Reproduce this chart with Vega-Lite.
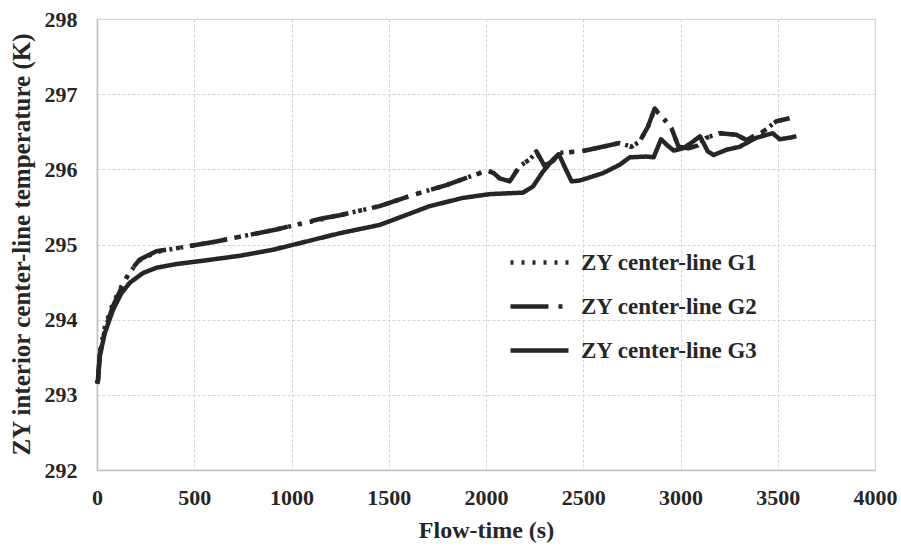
{
  "$schema": "https://vega.github.io/schema/vega-lite/v6.json",
  "width": 778,
  "height": 451,
  "autosize": "none",
  "padding": {"left": 97, "top": 19, "right": 26, "bottom": 76},
  "background": "white",
  "view": {"stroke": "#d9d9d9", "strokeWidth": 1.2},
  "config": {
    "axis": {
      "labelFont": "Liberation Serif",
      "labelFontWeight": "bold",
      "labelFontSize": 22,
      "labelColor": "#262626",
      "titleFont": "Liberation Serif",
      "titleFontWeight": "bold",
      "titleFontSize": 24,
      "titleColor": "#262626",
      "ticks": false,
      "gridColor": "#d4d4d4",
      "gridDash": [3, 2],
      "gridWidth": 1,
      "domainColor": "#bfbfbf",
      "domainWidth": 1.5,
      "labelFlush": false
    }
  },
  "data": {
    "values": [
      {"s": "ZY center-line G1", "t": 0, "T": 293.15},
      {"s": "ZY center-line G1", "t": 5, "T": 293.22},
      {"s": "ZY center-line G1", "t": 14, "T": 293.56},
      {"s": "ZY center-line G1", "t": 40, "T": 293.9},
      {"s": "ZY center-line G1", "t": 82, "T": 294.22},
      {"s": "ZY center-line G1", "t": 125, "T": 294.44},
      {"s": "ZY center-line G1", "t": 168, "T": 294.63},
      {"s": "ZY center-line G1", "t": 220, "T": 294.79},
      {"s": "ZY center-line G1", "t": 305, "T": 294.9},
      {"s": "ZY center-line G1", "t": 408, "T": 294.95},
      {"s": "ZY center-line G1", "t": 614, "T": 295.04},
      {"s": "ZY center-line G1", "t": 922, "T": 295.2},
      {"s": "ZY center-line G1", "t": 1162, "T": 295.34},
      {"s": "ZY center-line G1", "t": 1248, "T": 295.39},
      {"s": "ZY center-line G1", "t": 1453, "T": 295.51},
      {"s": "ZY center-line G1", "t": 1625, "T": 295.66},
      {"s": "ZY center-line G1", "t": 1796, "T": 295.79},
      {"s": "ZY center-line G1", "t": 1968, "T": 295.95},
      {"s": "ZY center-line G1", "t": 2002, "T": 295.99},
      {"s": "ZY center-line G1", "t": 2040, "T": 295.95},
      {"s": "ZY center-line G1", "t": 2070, "T": 295.88},
      {"s": "ZY center-line G1", "t": 2122, "T": 295.85},
      {"s": "ZY center-line G1", "t": 2173, "T": 296.04},
      {"s": "ZY center-line G1", "t": 2224, "T": 296.13},
      {"s": "ZY center-line G1", "t": 2259, "T": 296.23},
      {"s": "ZY center-line G1", "t": 2300, "T": 296.06},
      {"s": "ZY center-line G1", "t": 2340, "T": 296.1},
      {"s": "ZY center-line G1", "t": 2380, "T": 296.22},
      {"s": "ZY center-line G1", "t": 2490, "T": 296.24},
      {"s": "ZY center-line G1", "t": 2600, "T": 296.3},
      {"s": "ZY center-line G1", "t": 2687, "T": 296.35},
      {"s": "ZY center-line G1", "t": 2747, "T": 296.3},
      {"s": "ZY center-line G1", "t": 2790, "T": 296.37},
      {"s": "ZY center-line G1", "t": 2833, "T": 296.57},
      {"s": "ZY center-line G1", "t": 2867, "T": 296.8},
      {"s": "ZY center-line G1", "t": 2918, "T": 296.66},
      {"s": "ZY center-line G1", "t": 2953, "T": 296.55},
      {"s": "ZY center-line G1", "t": 2990, "T": 296.3},
      {"s": "ZY center-line G1", "t": 3040, "T": 296.28},
      {"s": "ZY center-line G1", "t": 3090, "T": 296.32},
      {"s": "ZY center-line G1", "t": 3133, "T": 296.42},
      {"s": "ZY center-line G1", "t": 3201, "T": 296.48},
      {"s": "ZY center-line G1", "t": 3287, "T": 296.46},
      {"s": "ZY center-line G1", "t": 3339, "T": 296.39},
      {"s": "ZY center-line G1", "t": 3424, "T": 296.5},
      {"s": "ZY center-line G1", "t": 3493, "T": 296.64},
      {"s": "ZY center-line G1", "t": 3561, "T": 296.68},

      {"s": "ZY center-line G2", "t": 0, "T": 293.15},
      {"s": "ZY center-line G2", "t": 5, "T": 293.2},
      {"s": "ZY center-line G2", "t": 14, "T": 293.53},
      {"s": "ZY center-line G2", "t": 40, "T": 293.86},
      {"s": "ZY center-line G2", "t": 82, "T": 294.18},
      {"s": "ZY center-line G2", "t": 125, "T": 294.42},
      {"s": "ZY center-line G2", "t": 168, "T": 294.64},
      {"s": "ZY center-line G2", "t": 220, "T": 294.8},
      {"s": "ZY center-line G2", "t": 305, "T": 294.91},
      {"s": "ZY center-line G2", "t": 408, "T": 294.95},
      {"s": "ZY center-line G2", "t": 614, "T": 295.04},
      {"s": "ZY center-line G2", "t": 922, "T": 295.2},
      {"s": "ZY center-line G2", "t": 1162, "T": 295.35},
      {"s": "ZY center-line G2", "t": 1248, "T": 295.39},
      {"s": "ZY center-line G2", "t": 1453, "T": 295.51},
      {"s": "ZY center-line G2", "t": 1625, "T": 295.66},
      {"s": "ZY center-line G2", "t": 1796, "T": 295.79},
      {"s": "ZY center-line G2", "t": 1968, "T": 295.95},
      {"s": "ZY center-line G2", "t": 2002, "T": 295.99},
      {"s": "ZY center-line G2", "t": 2040, "T": 295.95},
      {"s": "ZY center-line G2", "t": 2070, "T": 295.88},
      {"s": "ZY center-line G2", "t": 2122, "T": 295.84},
      {"s": "ZY center-line G2", "t": 2173, "T": 296.04},
      {"s": "ZY center-line G2", "t": 2224, "T": 296.13},
      {"s": "ZY center-line G2", "t": 2259, "T": 296.24},
      {"s": "ZY center-line G2", "t": 2300, "T": 296.05},
      {"s": "ZY center-line G2", "t": 2340, "T": 296.1},
      {"s": "ZY center-line G2", "t": 2380, "T": 296.22},
      {"s": "ZY center-line G2", "t": 2490, "T": 296.24},
      {"s": "ZY center-line G2", "t": 2600, "T": 296.3},
      {"s": "ZY center-line G2", "t": 2687, "T": 296.35},
      {"s": "ZY center-line G2", "t": 2747, "T": 296.3},
      {"s": "ZY center-line G2", "t": 2790, "T": 296.37},
      {"s": "ZY center-line G2", "t": 2833, "T": 296.57},
      {"s": "ZY center-line G2", "t": 2867, "T": 296.81},
      {"s": "ZY center-line G2", "t": 2918, "T": 296.66},
      {"s": "ZY center-line G2", "t": 2953, "T": 296.55},
      {"s": "ZY center-line G2", "t": 2990, "T": 296.3},
      {"s": "ZY center-line G2", "t": 3040, "T": 296.28},
      {"s": "ZY center-line G2", "t": 3090, "T": 296.32},
      {"s": "ZY center-line G2", "t": 3133, "T": 296.42},
      {"s": "ZY center-line G2", "t": 3201, "T": 296.48},
      {"s": "ZY center-line G2", "t": 3287, "T": 296.46},
      {"s": "ZY center-line G2", "t": 3339, "T": 296.39},
      {"s": "ZY center-line G2", "t": 3424, "T": 296.5},
      {"s": "ZY center-line G2", "t": 3493, "T": 296.64},
      {"s": "ZY center-line G2", "t": 3561, "T": 296.68},

      {"s": "ZY center-line G3", "t": 0, "T": 293.15},
      {"s": "ZY center-line G3", "t": 5, "T": 293.18},
      {"s": "ZY center-line G3", "t": 14, "T": 293.51},
      {"s": "ZY center-line G3", "t": 40, "T": 293.82},
      {"s": "ZY center-line G3", "t": 82, "T": 294.13},
      {"s": "ZY center-line G3", "t": 125, "T": 294.35},
      {"s": "ZY center-line G3", "t": 168, "T": 294.49},
      {"s": "ZY center-line G3", "t": 236, "T": 294.62},
      {"s": "ZY center-line G3", "t": 305, "T": 294.69},
      {"s": "ZY center-line G3", "t": 408, "T": 294.74},
      {"s": "ZY center-line G3", "t": 562, "T": 294.79},
      {"s": "ZY center-line G3", "t": 734, "T": 294.85},
      {"s": "ZY center-line G3", "t": 905, "T": 294.93},
      {"s": "ZY center-line G3", "t": 1077, "T": 295.04},
      {"s": "ZY center-line G3", "t": 1248, "T": 295.15},
      {"s": "ZY center-line G3", "t": 1453, "T": 295.26},
      {"s": "ZY center-line G3", "t": 1556, "T": 295.36},
      {"s": "ZY center-line G3", "t": 1710, "T": 295.51},
      {"s": "ZY center-line G3", "t": 1882, "T": 295.62},
      {"s": "ZY center-line G3", "t": 2019, "T": 295.67},
      {"s": "ZY center-line G3", "t": 2190, "T": 295.69},
      {"s": "ZY center-line G3", "t": 2241, "T": 295.77},
      {"s": "ZY center-line G3", "t": 2293, "T": 295.97},
      {"s": "ZY center-line G3", "t": 2344, "T": 296.13},
      {"s": "ZY center-line G3", "t": 2375, "T": 296.2},
      {"s": "ZY center-line G3", "t": 2405, "T": 296.03},
      {"s": "ZY center-line G3", "t": 2440, "T": 295.84},
      {"s": "ZY center-line G3", "t": 2480, "T": 295.85},
      {"s": "ZY center-line G3", "t": 2530, "T": 295.89},
      {"s": "ZY center-line G3", "t": 2602, "T": 295.95},
      {"s": "ZY center-line G3", "t": 2687, "T": 296.06},
      {"s": "ZY center-line G3", "t": 2739, "T": 296.16},
      {"s": "ZY center-line G3", "t": 2825, "T": 296.17},
      {"s": "ZY center-line G3", "t": 2862, "T": 296.16},
      {"s": "ZY center-line G3", "t": 2900, "T": 296.4},
      {"s": "ZY center-line G3", "t": 2932, "T": 296.32},
      {"s": "ZY center-line G3", "t": 2965, "T": 296.25},
      {"s": "ZY center-line G3", "t": 3013, "T": 296.28},
      {"s": "ZY center-line G3", "t": 3060, "T": 296.36},
      {"s": "ZY center-line G3", "t": 3100, "T": 296.44},
      {"s": "ZY center-line G3", "t": 3140, "T": 296.24},
      {"s": "ZY center-line G3", "t": 3170, "T": 296.19},
      {"s": "ZY center-line G3", "t": 3236, "T": 296.26},
      {"s": "ZY center-line G3", "t": 3304, "T": 296.3},
      {"s": "ZY center-line G3", "t": 3390, "T": 296.42},
      {"s": "ZY center-line G3", "t": 3474, "T": 296.48},
      {"s": "ZY center-line G3", "t": 3510, "T": 296.4},
      {"s": "ZY center-line G3", "t": 3560, "T": 296.42},
      {"s": "ZY center-line G3", "t": 3596, "T": 296.44}
    ]
  },
  "mark": {"type": "line", "strokeWidth": 4.5, "color": "#262626", "strokeJoin": "round"},
  "encoding": {
    "x": {
      "field": "t",
      "type": "quantitative",
      "scale": {"domain": [0, 4000], "nice": false},
      "axis": {
        "title": "Flow-time (s)",
        "values": [0, 500, 1000, 1500, 2000, 2500, 3000, 3500, 4000],
        "format": "d",
        "labelPadding": 27,
        "labelBaseline": "middle",
        "titleY": 60,
        "titleBaseline": "middle"
      }
    },
    "y": {
      "field": "T",
      "type": "quantitative",
      "scale": {"domain": [292, 298], "nice": false, "zero": false},
      "axis": {
        "title": "ZY interior center-line temperature (K)",
        "values": [292, 293, 294, 295, 296, 297, 298],
        "format": "d",
        "labelPadding": 20,
        "labelBaseline": "middle",
        "titleX": -76,
        "titleY": 225,
        "titleAngle": -90,
        "titleAlign": "center",
        "titleBaseline": "middle",
        "titleFontSize": 25
      }
    },
    "strokeDash": {
      "field": "s",
      "type": "nominal",
      "scale": {
        "domain": ["ZY center-line G1", "ZY center-line G2", "ZY center-line G3"],
        "range": [[3, 8], [38, 10, 4, 10], [1, 0]]
      },
      "legend": {
        "title": null,
        "orient": "none",
        "legendX": 411,
        "legendY": 212,
        "symbolType": "stroke",
        "symbolSize": 3364,
        "symbolStrokeWidth": 4.5,
        "symbolStrokeColor": "#262626",
        "labelFont": "Liberation Serif",
        "labelFontWeight": "bold",
        "labelFontSize": 23,
        "labelColor": "#262626",
        "labelOffset": 10,
        "labelLimit": 0,
        "rowPadding": -16
      }
    }
  }
}
